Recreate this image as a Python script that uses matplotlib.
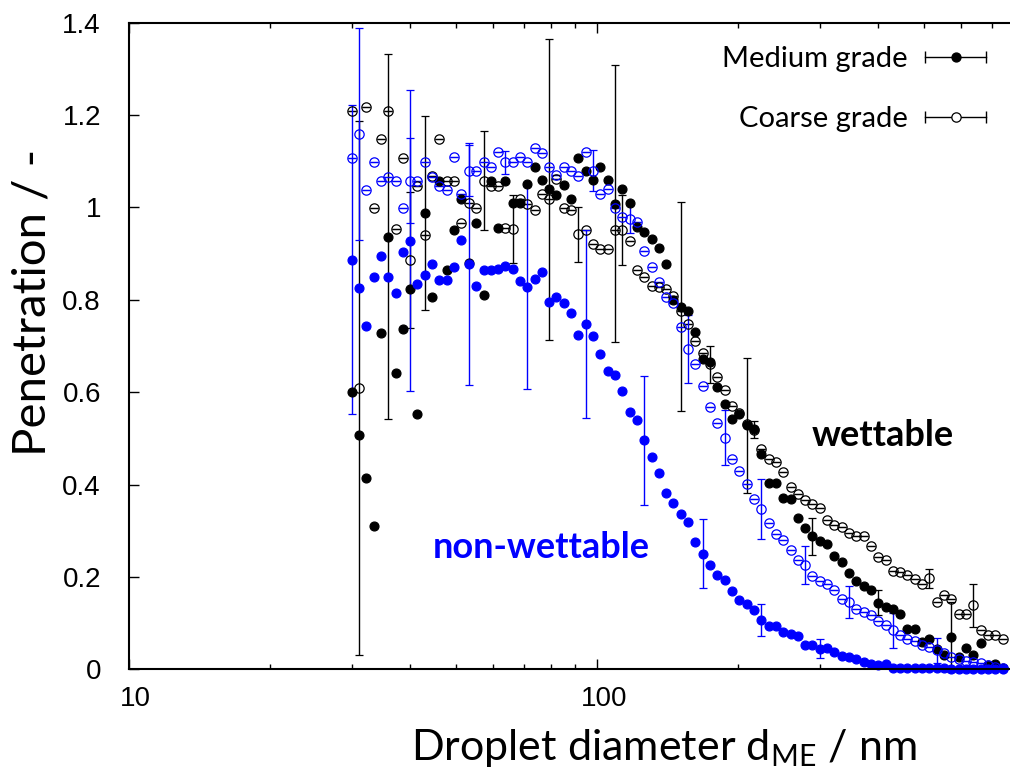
import matplotlib
matplotlib.use("Agg")
import matplotlib.pyplot as plt
import matplotlib.transforms as mtransforms
import numpy as np
from matplotlib.lines import Line2D
from matplotlib.legend_handler import HandlerLine2D, HandlerTuple
from matplotlib.ticker import FixedLocator, FixedFormatter, NullFormatter

# droplet diameter (nm), SMPS channel mid points
diameter = [30.0, 31.1, 32.2, 33.4, 34.6, 35.9, 37.2, 38.5, 40.0, 41.4,
            42.9, 44.5, 46.1, 47.8, 49.6, 51.4, 53.3, 55.2, 57.3, 59.4,
            61.5, 63.8, 66.1, 68.5, 71.0, 73.7, 76.4, 79.1, 82.0, 85.1,
            88.2, 91.4, 94.7, 98.2, 101.8, 105.5, 109.4, 113.4, 117.6, 121.9,
            126.3, 131.0, 135.8, 140.7, 145.9, 151.2, 156.8, 162.5, 168.5, 174.7,
            181.1, 187.7, 194.6, 201.7, 209.1, 216.7, 224.7, 232.9, 241.4, 250.3,
            259.5, 269.0, 278.8, 289.0, 299.6, 310.6, 322.0, 333.8, 346.0, 358.7,
            371.8, 385.4, 399.5, 414.2, 429.4, 445.1, 461.4, 478.3, 495.8, 514.0,
            532.8, 552.3, 572.5, 593.5, 615.3, 637.8, 661.2, 685.4, 710.5, 736.5]

# wettable filter
medium_wet = [0.600, 0.507, 0.414, 0.311, 0.729, 0.937, 0.642, 0.736, 0.824, 0.552,
              0.989, 0.806, 1.058, 0.865, 0.951, 1.018, 0.880, 0.966, 0.811, 1.058,
              0.956, 1.058, 1.009, 1.009, 1.050, 1.088, 1.059, 1.039, 1.028, 1.048,
              1.018, 1.108, 1.080, 1.059, 1.088, 1.059, 1.008, 1.039, 1.009, 0.957,
              0.947, 0.932, 0.912, 0.878, 0.800, 0.785, 0.777, 0.730, 0.673, 0.665,
              0.611, 0.575, 0.543, 0.552, 0.529, 0.521, 0.467, 0.404, 0.404, 0.372,
              0.368, 0.327, 0.306, 0.288, 0.278, 0.271, 0.245, 0.233, 0.209, 0.191,
              0.180, 0.172, 0.144, 0.136, 0.132, 0.120, 0.087, 0.087, 0.060, 0.065,
              0.045, 0.031, 0.071, 0.027, 0.047, 0.031, 0.058, 0.010, 0.012, 0.004]
coarse_wet = [1.209, 0.609, 1.218, 0.998, 1.148, 1.209, 0.953, 1.108, 0.886, 1.047,
              0.940, 1.069, 1.148, 1.058, 1.058, 0.966, 1.009, 0.998, 1.058, 1.047,
              1.047, 0.956, 0.953, 1.018, 1.008, 0.995, 1.029, 1.018, 1.061, 0.998,
              0.995, 0.942, 0.951, 0.922, 0.911, 0.911, 0.951, 0.951, 0.927, 0.865,
              0.850, 0.831, 0.827, 0.823, 0.808, 0.777, 0.748, 0.711, 0.685, 0.661,
              0.634, 0.604, 0.570, 0.556, 0.532, 0.519, 0.478, 0.456, 0.449, 0.428,
              0.395, 0.379, 0.366, 0.359, 0.350, 0.324, 0.312, 0.309, 0.296, 0.288,
              0.288, 0.267, 0.244, 0.238, 0.213, 0.211, 0.204, 0.195, 0.184, 0.197,
              0.146, 0.161, 0.152, 0.121, 0.121, 0.139, 0.086, 0.074, 0.074, 0.067]

# non-wettable filter
medium_nonwet = [0.887, 0.825, 0.744, 0.849, 0.894, 0.849, 0.814, 0.904, 0.928, 0.834,
                 0.854, 0.878, 0.844, 0.842, 0.872, 0.930, 0.878, 0.829, 0.864, 0.865,
                 0.867, 0.873, 0.867, 0.840, 0.827, 0.845, 0.861, 0.795, 0.807, 0.793,
                 0.771, 0.725, 0.748, 0.722, 0.683, 0.646, 0.637, 0.603, 0.557, 0.541,
                 0.496, 0.459, 0.425, 0.382, 0.360, 0.337, 0.319, 0.276, 0.251, 0.227,
                 0.204, 0.193, 0.170, 0.150, 0.141, 0.128, 0.107, 0.094, 0.094, 0.081,
                 0.076, 0.072, 0.053, 0.053, 0.045, 0.047, 0.038, 0.030, 0.026, 0.022,
                 0.017, 0.011, 0.010, 0.012, 0.004, 0.004, 0.004, 0.003, 0.003, 0.003,
                 0.003, 0.003, 0.002, 0.002, 0.002, 0.002, 0.002, 0.002, 0.002, 0.002]
coarse_nonwet = [1.108, 1.159, 1.038, 1.098, 1.058, 1.067, 1.058, 0.998, 1.058, 1.058,
                 1.098, 1.067, 1.047, 1.038, 1.110, 1.029, 1.080, 1.080, 1.098, 1.088,
                 1.121, 1.098, 1.098, 1.110, 1.098, 1.128, 1.119, 1.088, 1.070, 1.088,
                 1.080, 1.069, 1.120, 1.080, 1.029, 1.039, 0.999, 0.979, 0.975, 0.969,
                 0.905, 0.871, 0.839, 0.807, 0.794, 0.742, 0.694, 0.661, 0.614, 0.568,
                 0.534, 0.502, 0.455, 0.430, 0.402, 0.370, 0.347, 0.316, 0.294, 0.280,
                 0.258, 0.237, 0.226, 0.202, 0.192, 0.185, 0.172, 0.153, 0.146, 0.132,
                 0.125, 0.118, 0.105, 0.096, 0.085, 0.074, 0.067, 0.062, 0.053, 0.049,
                 0.042, 0.035, 0.027, 0.022, 0.019, 0.017, 0.013, 0.010, 0.006, 0.004]

# error bars: channel index and half width
medium_wet_err_idx = [5, 10, 27, 36, 45, 54, 63, 72, 82]
medium_wet_err = [0.395, 0.21, 0.326, 0.30, 0.226, 0.146, 0.04, 0.027, 0.076]
coarse_wet_err_idx = [1, 8, 18, 22, 31, 37, 49, 55, 79, 85]
coarse_wet_err = [0.578, 0.147, 0.107, 0.074, 0.06, 0.075, 0.04, 0.019, 0.02, 0.046]
medium_nonwet_err_idx = [0, 8, 16, 24, 32, 40, 48, 56, 64]
medium_nonwet_err = [0.334, 0.326, 0.262, 0.219, 0.203, 0.14, 0.075, 0.035, 0.02]
coarse_nonwet_err_idx = [1, 8, 16, 21, 33, 38, 46, 51, 56, 62, 68, 74, 80]
coarse_nonwet_err = [0.23, 0.092, 0.055, 0.025, 0.044, 0.031, 0.074, 0.06, 0.065,
                     0.042, 0.035, 0.038, 0.027]

x_major = [10, 100]
x_major_labels = ["10", "100"]
x_minor = [20, 30, 40, 50, 60, 70, 80, 90, 200, 300, 400, 500, 600, 700]
y_ticks = [0, 0.2, 0.4, 0.6, 0.8, 1, 1.2, 1.4]
y_tick_labels = ["0", "0.2", "0.4", "0.6", "0.8", "1", "1.2", "1.4"]

BLUE = "#0000ff"


def full_err(idx, err):
    e = np.zeros(len(diameter))
    e[idx] = err
    return e


plt.rcParams["font.family"] = ["Lato", "DejaVu Sans"]
plt.rcParams["mathtext.fontset"] = "custom"
plt.rcParams["mathtext.rm"] = "Lato"

fig = plt.figure(figsize=(10.10, 7.69), dpi=100)
ax = fig.add_axes([0.1274, 0.1294, 0.8726, 0.8411])

series = [
    (medium_wet, medium_wet_err_idx, medium_wet_err, "k", True),
    (coarse_wet, coarse_wet_err_idx, coarse_wet_err, "k", False),
    (medium_nonwet, medium_nonwet_err_idx, medium_nonwet_err, BLUE, True),
    (coarse_nonwet, coarse_nonwet_err_idx, coarse_nonwet_err, BLUE, False),
]
for vals, idx, err, col, filled in series:
    ax.errorbar(diameter, vals, yerr=full_err(idx, err), fmt="o", color=col,
                ms=6.4 if filled else 6.7, mfc=col if filled else "none",
                mec=col, mew=0.9, ecolor=col, elinewidth=1.0, capsize=3,
                capthick=1.0, clip_on=False)

ax.set_xscale("log")
ax.set_xlim(10, 764)
ax.set_ylim(0, 1.4)

ax.xaxis.set_major_locator(FixedLocator(x_major))
ax.xaxis.set_major_formatter(FixedFormatter(x_major_labels))
ax.xaxis.set_minor_locator(FixedLocator(x_minor))
ax.xaxis.set_minor_formatter(NullFormatter())
ax.yaxis.set_major_locator(FixedLocator(y_ticks))
ax.yaxis.set_major_formatter(FixedFormatter(y_tick_labels))

ax.tick_params(which="both", direction="in", top=True, right=False, width=1.0)
ax.tick_params(which="major", length=7)
ax.tick_params(which="minor", length=3.6)
ax.tick_params(axis="y", pad=20)
ax.tick_params(axis="x", pad=12)
shift = mtransforms.ScaledTranslation(7 / 100, 0, fig.dpi_scale_trans)
for lab in ax.get_xticklabels():
    lab.set_transform(lab.get_transform() + shift)
for lab in ax.get_xticklabels() + ax.get_yticklabels():
    lab.set_fontfamily("Liberation Sans")
    lab.set_fontsize(20)

for s in ["left", "bottom", "top"]:
    ax.spines[s].set_linewidth(1.5)
ax.spines["right"].set_visible(False)

ax.set_xlabel(r"Droplet diameter d$_{\mathrm{ME}}$ / nm", fontsize=31)
ax.set_ylabel("Penetration / -", fontsize=34)
ax.xaxis.set_label_coords(0.607, -0.089)
ax.yaxis.set_label_coords(-0.085, 0.568)

ax.text(409, 0.507, "wettable", fontsize=26, fontweight="bold",
        ha="center", va="center", color="k")
ax.text(76, 0.263, "non-wettable", fontsize=26, fontweight="bold",
        ha="center", va="center", color=BLUE)

# legend: horizontal capped line with marker, text on the left
cap_m = Line2D([], [], color="k", lw=1.0, marker="|", ms=9, mew=1.0)
dot_m = Line2D([], [], color="k", ls="none", marker="o", ms=6.4, mfc="k", mec="k")
cap_c = Line2D([], [], color="k", lw=1.0, marker="|", ms=9, mew=1.0)
dot_c = Line2D([], [], color="k", ls="none", marker="o", ms=6.7, mfc="white",
               mec="k", mew=0.9)
hmap = {cap_m: HandlerLine2D(numpoints=2, marker_pad=0),
        cap_c: HandlerLine2D(numpoints=2, marker_pad=0),
        dot_m: HandlerLine2D(numpoints=1),
        dot_c: HandlerLine2D(numpoints=1),
        tuple: HandlerTuple(ndivide=1)}
ax.legend([(cap_m, dot_m), (cap_c, dot_c)], ["Medium grade", "Coarse grade"],
          handler_map=hmap, loc="upper right", bbox_to_anchor=(1.003, 1.004),
          frameon=False, markerfirst=False, fontsize=21, handlelength=2.1,
          handletextpad=0.6, labelspacing=1.15)

plt.savefig("out.png", dpi=100)
plt.close()
